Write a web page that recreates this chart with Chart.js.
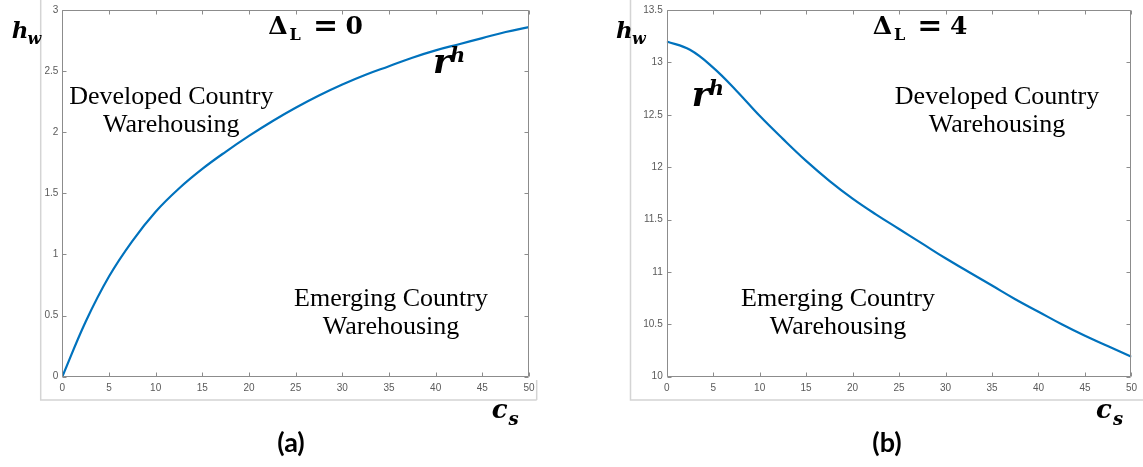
<!DOCTYPE html>
<html>
<head>
<meta charset="utf-8">
<script src="https://cdn.jsdelivr.net/npm/chart.js@4.4.1/dist/chart.umd.min.js"></script>
<style>
  html, body { margin: 0; padding: 0; background: #fff; }
  #page { position: relative; width: 1143px; height: 467px; overflow: hidden; background: #fff; }
  canvas { position: absolute; top: 0; }
  .lbl { position: absolute; white-space: nowrap; color: #000; }
</style>
</head>
<body>
<div id="page">
  <canvas id="chartA" width="572" height="467" style="left:0px"></canvas>
  <canvas id="chartB" width="571" height="467" style="left:572px"></canvas>
</div>
<script>
// c_s values on the x axis (shared by both panels)
const cValues = [0, 2.5, 5, 7.5, 10, 12.5, 15, 17.5, 20, 22.5, 25, 27.5, 30, 32.5, 35, 37.5, 40, 42.5, 45, 47.5, 50];
// r^h curve, panel (a) Delta_L = 0
const hwPanelA = [0, 0.45, 0.82, 1.11, 1.35, 1.54, 1.70, 1.84, 1.97, 2.09, 2.20, 2.30, 2.39, 2.47, 2.54, 2.61, 2.67, 2.72, 2.77, 2.82, 2.86];
// r^h curve, panel (b) Delta_L = 4
const hwPanelB = [13.20, 13.12, 12.95, 12.73, 12.49, 12.27, 12.06, 11.87, 11.70, 11.55, 11.41, 11.27, 11.13, 11.00, 10.87, 10.74, 10.62, 10.50, 10.39, 10.29, 10.19];

const xTickLabels = ['0', '5', '10', '15', '20', '25', '30', '35', '40', '45', '50'];
const yTickLabelsA = ['0', '0.5', '1', '1.5', '2', '2.5', '3'];
const yTickLabelsB = ['10', '10.5', '11', '11.5', '12', '12.5', '13', '13.5'];

const axisColor = '#8c8c8c';
const tickTextColor = '#5a5a5a';
const lineBlue = '#0072BD';

// MATLAB style box: full frame with ticks pointing inward + the light outer border of the screenshot
const boxPlugin = {
    id: 'boxPlugin',
    afterDraw(chart, args, opts) {
        const ctx = chart.ctx;
        const a = chart.chartArea;
        const xs = chart.scales.x, ys = chart.scales.y;
        ctx.save();

        // light outer frame
        if (opts.outer) {
            const o = opts.outer;
            ctx.strokeStyle = '#d4d4d4';
            ctx.lineWidth = 1.5;
            ctx.beginPath();
            ctx.moveTo(o.left, 0);
            ctx.lineTo(o.left, o.bottom);
            ctx.lineTo(o.right, o.bottom);
            if (o.rightTop !== undefined) {
                ctx.moveTo(o.right, o.bottom);
                ctx.lineTo(o.right, o.rightTop);
            }
            ctx.stroke();
        }

        ctx.strokeStyle = axisColor;
        ctx.lineWidth = 1;
        const L = Math.round(a.left) + 0.5, R = Math.round(a.right) - 0.5;
        const T = Math.round(a.top) + 0.5, B = Math.round(a.bottom) - 0.5;
        ctx.beginPath();
        ctx.rect(L, T, R - L, B - T);
        const tl = 4;
        xs.ticks.forEach(t => {
            const px = Math.round(xs.getPixelForValue(t.value)) + 0.5;
            ctx.moveTo(px, B); ctx.lineTo(px, B - tl);
            ctx.moveTo(px, T); ctx.lineTo(px, T + tl);
        });
        ys.ticks.forEach(t => {
            const py = Math.round(ys.getPixelForValue(t.value)) + 0.5;
            ctx.moveTo(L, py); ctx.lineTo(L + tl, py);
            ctx.moveTo(R, py); ctx.lineTo(R - tl, py);
        });
        ctx.stroke();
        ctx.restore();
    }
};

function makePanel(canvasId, values, yMin, yMax, yLabels, yAxisWidth, padRight, outer) {
    const points = cValues.map((c, i) => ({ x: c, y: values[i] }));
    return new Chart(document.getElementById(canvasId), {
        type: 'line',
        data: {
            datasets: [{
                data: points,
                borderColor: lineBlue,
                borderWidth: 2.2,
                pointRadius: 0,
                fill: false,
                tension: 0.4
            }]
        },
        options: {
            responsive: false,
            animation: false,
            devicePixelRatio: 1,
            layout: { padding: { top: 9, right: padRight, left: 0, bottom: 0 } },
            plugins: {
                legend: { display: false },
                tooltip: { enabled: false },
                boxPlugin: { outer: outer }
            },
            scales: {
                x: {
                    type: 'linear',
                    min: 0, max: 50,
                    grid: { display: false, drawTicks: false },
                    border: { display: false },
                    ticks: {
                        stepSize: 5,
                        padding: 6,
                        maxRotation: 0,
                        color: tickTextColor,
                        font: { family: 'Liberation Sans', size: 10 },
                        callback: (v, i) => xTickLabels[i]
                    },
                    afterFit: s => { s.height = 90.3; }
                },
                y: {
                    type: 'linear',
                    min: yMin, max: yMax,
                    grid: { display: false, drawTicks: false },
                    border: { display: false },
                    ticks: {
                        stepSize: 0.5,
                        padding: 4,
                        color: tickTextColor,
                        font: { family: 'Liberation Sans', size: 10 },
                        callback: (v, i) => yLabels[i]
                    },
                    afterFit: s => { s.width = yAxisWidth; }
                }
            }
        },
        plugins: [boxPlugin]
    });
}

makePanel('chartA', hwPanelA, 0, 3, yTickLabelsA, 62.3, 43, { left: 40.7, right: 536.7, bottom: 400, rightTop: 380 });
makePanel('chartB', hwPanelB, 10, 13.5, yTickLabelsB, 94.7, 9.7, { left: 58.5, right: 580, bottom: 400 });

// text labels as html, placed by baseline
const page = document.getElementById('page');
const mctx = document.createElement('canvas').getContext('2d');
function placeText(str, x, baseline, font, align) {
    mctx.font = font;
    const m = mctx.measureText(str);
    const asc = m.fontBoundingBoxAscent, desc = m.fontBoundingBoxDescent;
    const el = document.createElement('div');
    el.className = 'lbl';
    el.textContent = str;
    el.style.font = font;
    el.style.lineHeight = (asc + desc) + 'px';
    el.style.top = (baseline - asc) + 'px';
    let left = x;
    if (align === 'center') left = x - m.width / 2;
    if (align === 'right') left = x - m.width;
    el.style.left = left + 'px';
    page.appendChild(el);
}

const mathBI = 'italic bold 23px "DejaVu Serif"';
const mathBISub = 'italic bold 16px "DejaVu Serif"';
const titleFont = 'bold 25px "DejaVu Serif"';
const titleSub = 'bold 16px "DejaVu Serif"';
const regionFont = '26px "Liberation Serif"';
const panelFont = 'bold 27px Lato';

function panelTexts(dx, deltaValue, dev, emg, rh, panelName, panelX) {
    // h_w
    placeText('h', 11.7 + dx, 38.3, mathBI);
    placeText('w', 27.5 + dx, 43.5, mathBISub);
    // Delta_L = n
    placeText('\u0394', 268.3 + dx, 33.5, titleFont);
    placeText('L', 289.5 + dx, 40, titleSub);
    placeText('=', 325.5 + dx, 34.5, 'bold 30px "DejaVu Serif"', 'center');
    placeText(deltaValue, 345.5 + dx, 33.5, titleFont);
    // r^h
    placeText('r', rh[0], rh[1], 'italic bold 34px "DejaVu Serif"');
    placeText('h', rh[0] + 17, rh[1] - 11, 'italic bold 21px "DejaVu Serif"');
    // regions
    placeText('Developed Country', dev[0], dev[1], regionFont, 'center');
    placeText('Warehousing', dev[0], dev[1] + 28, regionFont, 'center');
    placeText('Emerging Country', emg[0], emg[1], regionFont, 'center');
    placeText('Warehousing', emg[0], emg[1] + 28, regionFont, 'center');
    // c_s
    placeText('c', 491.7 + dx, 418.3, 'italic bold 26px "DejaVu Serif"');
    placeText('s', 508.5 + dx, 425, 'italic bold 18px "DejaVu Serif"');
    // (a)/(b)
    placeText(panelName, panelX, 452, panelFont, 'center');
}

panelTexts(0, '0', [171.3, 104.3], [391, 306], [433, 73], '(a)', 291);
panelTexts(604.4, '4', [997, 104.3], [838, 306], [691.7, 106], '(b)', 887);
</script>
</body>
</html>
